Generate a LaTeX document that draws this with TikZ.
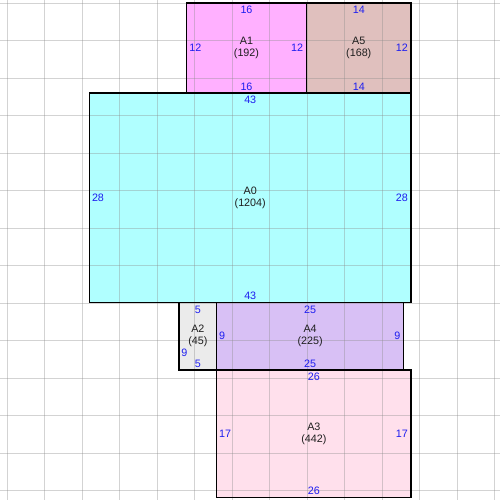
\documentclass[tikz,border=0pt]{standalone}
\usepackage{fontspec}
\setmainfont{Liberation Sans}
\definecolor{cAzero}{RGB}{176,255,255}
\definecolor{cAone}{RGB}{255,176,255}
\definecolor{cAfive}{RGB}{224,192,190}
\definecolor{cAtwo}{RGB}{235,235,235}
\definecolor{cAfour}{RGB}{216,192,245}
\definecolor{cAthree}{RGB}{255,224,236}
\definecolor{dimblue}{RGB}{30,30,240}
\definecolor{gridgray}{RGB}{140,140,140}
\begin{document}
\begin{tikzpicture}[x=1bp,y=-1bp,
  room/.style={rectangle, inner sep=0pt, outer sep=0pt, anchor=north west, draw=none},
  gridline/.style={draw=gridgray, line width=1bp, opacity=0.38},
  border/.style={draw=black, line width=1.4bp},
  roomname/.style={font=\fontsize{10.8}{12}\selectfont, align=center, inner sep=0pt, text=black!88},
  dimlabel/.style={font=\fontsize{10.8}{12}\selectfont, inner sep=0pt, text=dimblue},
]
\useasboundingbox[fill=white] (0,0) rectangle (500,500);
% rooms (fills)
\node[room, fill=cAone,  minimum width=119.76bp,  minimum height=89.82bp]  (A1) at (186.605,3.2) {};
\node[room, fill=cAfive, minimum width=104.79bp,  minimum height=89.82bp]  (A5) at (306.365,3.2) {};
\node[room, fill=cAzero, minimum width=321.855bp, minimum height=209.58bp] (A0) at (89.3,93.02) {};
\node[room, fill=cAtwo,  minimum width=37.425bp,  minimum height=67.365bp] (A2) at (179.12,302.6) {};
\node[room, fill=cAfour, minimum width=187.125bp, minimum height=67.365bp] (A4) at (216.545,302.6) {};
\node[room, fill=cAthree,minimum width=194.61bp,  minimum height=127.245bp](A3) at (216.545,369.965) {};
% grid
\foreach \i in {0,...,13} {
  \draw[gridline] ({7+37.5*\i},0) -- ({7+37.5*\i},500);
  \draw[gridline] (0,{3.2+37.5*\i}) -- (500,{3.2+37.5*\i});
}
% borders
\foreach \r in {A1,A5,A0,A2,A4,A3} {
  \draw[border] (\r.north west) rectangle (\r.south east);
}
% names
\node[roomname] (A1n) at (A1.center) {A1\\(192)};
\node[roomname] (A5n) at (A5.center) {A5\\(168)};
\node[roomname] (A0n) at (A0.center) {A0\\(1204)};
\node[roomname] (A2n) at (A2.center) {A2\\(45)};
\node[roomname] (A4n) at (A4.center) {A4\\(225)};
\node[roomname] (A3n) at (A3.center) {A3\\(442)};
% dimensions
\node[dimlabel] (A1t) at ([yshift=-7bp]A1.north) {16};
\node[dimlabel] (A1b) at ([yshift=6.5bp]A1.south) {16};
\node[dimlabel, anchor=west] (A1l) at ([xshift=2.5bp]A1.west) {12};
\node[dimlabel, anchor=east] (A1r) at ([xshift=-3bp]A1.east) {12};
\node[dimlabel] (A5t) at ([yshift=-7bp]A5.north) {14};
\node[dimlabel] (A5b) at ([yshift=6.5bp]A5.south) {14};
\node[dimlabel, anchor=east] (A5r) at ([xshift=-3bp]A5.east) {12};
\node[dimlabel] (A0t) at ([yshift=-7bp]A0.north) {43};
\node[dimlabel] (A0b) at ([yshift=6.5bp]A0.south) {43};
\node[dimlabel, anchor=west] (A0l) at ([xshift=2.5bp]A0.west) {28};
\node[dimlabel, anchor=east] (A0r) at ([xshift=-3bp]A0.east) {28};
\node[dimlabel] (A2t) at ([yshift=-7bp]A2.north) {5};
\node[dimlabel] (A2b) at ([yshift=6.5bp]A2.south) {5};
\node[dimlabel, anchor=west] (A2l) at ([xshift=2bp,yshift=-17bp]A2.west) {9};
\node[dimlabel] (A4t) at ([yshift=-7bp]A4.north) {25};
\node[dimlabel] (A4b) at ([yshift=6.5bp]A4.south) {25};
\node[dimlabel, anchor=west] (A4l) at ([xshift=2.5bp]A4.west) {9};
\node[dimlabel, anchor=east] (A4r) at ([xshift=-3bp]A4.east) {9};
\node[dimlabel] (A3t) at ([yshift=-7bp]A3.north) {26};
\node[dimlabel] (A3b) at ([yshift=6.5bp]A3.south) {26};
\node[dimlabel, anchor=west] (A3l) at ([xshift=2.5bp]A3.west) {17};
\node[dimlabel, anchor=east] (A3r) at ([xshift=-3bp]A3.east) {17};
\end{tikzpicture}
\end{document}
